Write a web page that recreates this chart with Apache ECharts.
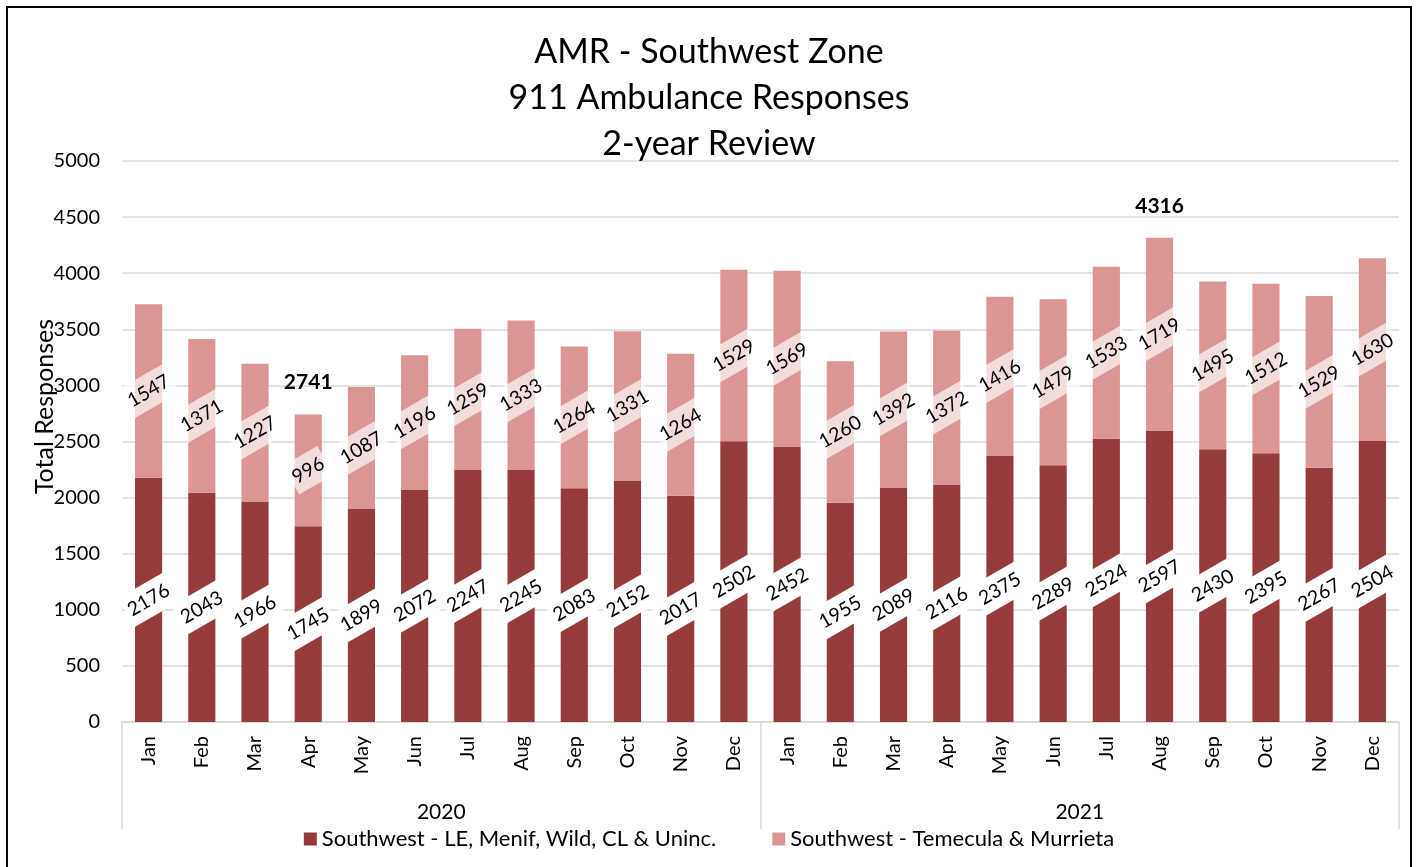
<!DOCTYPE html>
<html>
<head>
<meta charset="utf-8">
<script src="https://cdn.jsdelivr.net/npm/echarts@6/dist/echarts.min.js"></script>
<style>
html,body{margin:0;padding:0;background:#fff;}
#main{width:1418px;height:867px;}
</style>
</head>
<body>
<div id="main"></div>
<script>
const months = ['Jan','Feb','Mar','Apr','May','Jun','Jul','Aug','Sep','Oct','Nov','Dec',
                'Jan','Feb','Mar','Apr','May','Jun','Jul','Aug','Sep','Oct','Nov','Dec'];
const years = ['2020','2021'];
const seriesNames = ['Southwest - LE, Menif, Wild, CL & Uninc.', 'Southwest - Temecula & Murrieta'];
const leMenifWild = [2176,2043,1966,1745,1899,2072,2247,2245,2083,2152,2017,2502,
                     2452,1955,2089,2116,2375,2289,2524,2597,2430,2395,2267,2504];
const temeculaMurrieta = [1547,1371,1227,996,1087,1196,1259,1333,1264,1331,1264,1529,
                          1569,1260,1392,1372,1416,1479,1533,1719,1495,1512,1529,1630];
const yTicks = {min:0, max:5000, interval:500};

const FONT = 'Lato';
const totals = leMenifWild.map((v,i)=>v+temeculaMurrieta[i]);
let maxI = 0, minI = 0;
totals.forEach((t,i)=>{ if(t>totals[maxI]) maxI=i; if(t<totals[minI]) minI=i; });
const catKeys = months.map((m,i)=> m + '_' + (i<12?years[0]:years[1]));

const chart = echarts.init(document.getElementById('main'), null, {renderer:'canvas'});
const labelBase = {
  show:true, position:'inside', rotate:30, fontFamily:FONT, fontSize:19.5, color:'#000',
  padding:[7,3,6,3]
};
chart.setOption({
  animation:false,
  backgroundColor:'#fff',
  title:{
    text:'AMR - Southwest Zone\n911 Ambulance Responses\n2-year Review',
    left:'center', top:24,
    textStyle:{fontFamily:FONT, fontSize:34, fontWeight:'normal', color:'#000', lineHeight:46}
  },
  graphic:[{
    type:'polyline', shape:{points:[[7,880],[7,7],[1411,7],[1411,880]]},
    style:{stroke:'#000', lineWidth:2, fill:null}
  }],
  legend:{
    bottom:12, left:'center', itemGap:56, itemWidth:13, itemHeight:13, icon:'rect',
    textStyle:{fontFamily:FONT, fontSize:22, color:'#000'},
    data:seriesNames
  },
  grid:{left:122, right:19, top:161, bottom:145, containLabel:false},
  xAxis:[{
    type:'category', data:catKeys, gridIndex:0, position:'bottom',
    axisLine:{show:true, lineStyle:{color:'#d9d9d9', width:1.5}},
    axisTick:{show:false},
    axisLabel:{interval:0, rotate:90, margin:14, fontFamily:FONT, fontSize:20, color:'#000',
               formatter:(v)=>v.split('_')[0]}
  },{
    type:'category', data:years, gridIndex:0, position:'bottom',
    axisLine:{show:false},
    axisTick:{show:true, length:107, interval:0, lineStyle:{color:'#d9d9d9', width:1.5}},
    axisLabel:{interval:0, margin:80, fontFamily:FONT, fontSize:21, color:'#000'}
  }],
  yAxis:{
    type:'value', min:yTicks.min, max:yTicks.max, interval:yTicks.interval,
    name:'Total Responses', nameLocation:'middle', nameGap:65, nameMoveOverlap:false,
    nameTextStyle:{fontFamily:FONT, fontSize:25, color:'#000', padding:[0,0,0,70]},
    axisLine:{show:false}, axisTick:{show:false},
    axisLabel:{margin:22, fontFamily:FONT, fontSize:20, color:'#000', formatter:(v)=>String(v)},
    splitLine:{lineStyle:{color:'#d9d9d9', width:1.5}}
  },
  series:[{
    name:seriesNames[0], type:'bar', stack:'total', xAxisIndex:0, barWidth:'51%',
    itemStyle:{color:'#963B3B'},
    label:Object.assign({}, labelBase, {backgroundColor:'#ffffff'}),
    data:leMenifWild
  },{
    name:seriesNames[1], type:'bar', stack:'total', xAxisIndex:0, barWidth:'51%',
    itemStyle:{color:'#DA9594'},
    label:Object.assign({}, labelBase, {backgroundColor:'rgba(255,255,255,0.67)'}),
    data:temeculaMurrieta,
    markPoint:{
      symbol:'rect', symbolSize:1, itemStyle:{color:'rgba(0,0,0,0)'},
      label:{show:true, position:'top', distance:21, fontFamily:FONT, fontSize:21,
             fontWeight:'bold', color:'#000', formatter:(p)=>String(p.value)},
      data:[minI, maxI].map(i=>({coord:[catKeys[i], totals[i]], value:totals[i]}))
    }
  }]
});
</script>
</body>
</html>
